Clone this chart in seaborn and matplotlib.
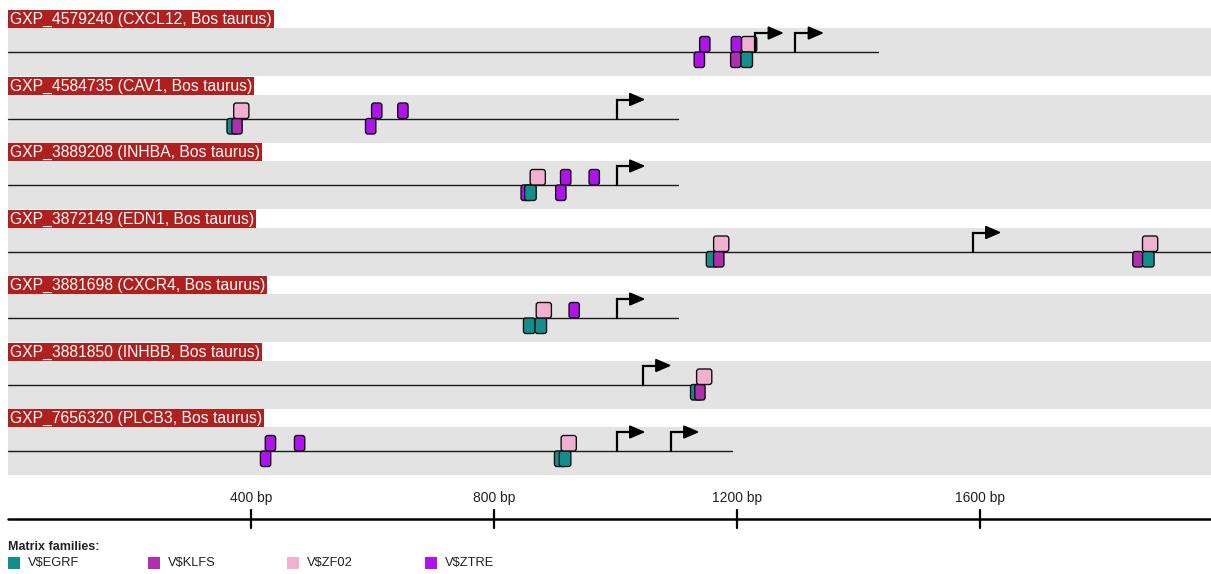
import numpy as np
import pandas as pd
import matplotlib
matplotlib.use("Agg")
import matplotlib.pyplot as plt
import seaborn as sns
from matplotlib.patches import FancyBboxPatch, Rectangle

# Datos de las secuencias
tracks = [
    "GXP_4579240 (CXCL12, Bos taurus)",
    "GXP_4584735 (CAV1, Bos taurus)",
    "GXP_3889208 (INHBA, Bos taurus)",
    "GXP_3872149 (EDN1, Bos taurus)",
    "GXP_3881698 (CXCR4, Bos taurus)",
    "GXP_3881850 (INHBB, Bos taurus)",
    "GXP_7656320 (PLCB3, Bos taurus)",
]
seq_len = [1432, 1103, 1103, 1980, 1103, 1131, 1192]
tss = [[1230, 1296], [1002], [1002], [1588], [1002], [1045], [1002, 1091]]

# Sitios de union (pista, posicion, hebra, familia)
site_track = [0, 0, 0, 0, 0, 0,
              1, 1, 1, 1, 1, 1,
              2, 2, 2, 2, 2, 2,
              3, 3, 3, 3, 3, 3,
              4, 4, 4, 4,
              5, 5, 5,
              6, 6, 6, 6, 6, 6]
site_pos = [1147, 1138, 1199, 1220, 1198, 1216,
            370, 377, 384, 607, 597, 650,
            853, 860, 872, 918, 910, 965,
            1159, 1170, 1174, 1860, 1877, 1880,
            858, 877, 882, 932,
            1133, 1139, 1146,
            424, 432, 480, 909, 917, 923]
site_strand = ["+", "-", "+", "+", "-", "-",
               "-", "-", "+", "+", "-", "+",
               "-", "-", "+", "+", "-", "+",
               "-", "-", "+", "-", "-", "+",
               "-", "-", "+", "+",
               "-", "-", "+",
               "-", "+", "+", "-", "-", "+"]
site_family = ["ZTRE", "ZTRE", "ZTRE", "ZF02", "KLFS", "EGRF",
               "EGRF", "KLFS", "ZF02", "ZTRE", "ZTRE", "ZTRE",
               "ZTRE", "EGRF", "ZF02", "ZTRE", "ZTRE", "ZTRE",
               "EGRF", "KLFS", "ZF02", "KLFS", "EGRF", "ZF02",
               "EGRF", "EGRF", "ZF02", "ZTRE",
               "EGRF", "KLFS", "ZF02",
               "ZTRE", "ZTRE", "ZTRE", "EGRF", "EGRF", "ZF02"]

families = ["EGRF", "KLFS", "ZF02", "ZTRE"]
fam_colors = ["#128f8d", "#b12db2", "#f0b1d0", "#b012ee"]
fam_width = {"EGRF": 19, "KLFS": 17, "ZF02": 25, "ZTRE": 17}
scale_ticks = [400, 800, 1200, 1600]

# Escala: pixeles -> unidades de datos
BP_PER_PX = 400 / 243
TRACK_PX = 66.5
def px(n):
    return n * BP_PER_PX
def py(n):
    return n / TRACK_PX

sns.set_theme(style="white")
plt.rcParams["font.family"] = ["Liberation Sans", "DejaVu Sans"]
pal = dict(zip(families, sns.color_palette(fam_colors)))

fig = plt.figure(figsize=(12.11, 5.74), dpi=100)
ax = fig.add_axes([0, 0, 1, 1])
ax.set_xlim(-px(8), px(1211 - 8))
ax.set_ylim(py(574 - 52), -py(52))
ax.axis("off")

# Bandas grises y etiquetas
label_texts = []
for i, name in enumerate(tracks):
    ax.add_patch(Rectangle((0, i - py(24)), px(1211 - 8), py(48),
                           facecolor="#e3e3e3", edgecolor="none", zorder=0))
    t = ax.text(px(2), i - py(32.5), name, color="white", fontsize=11.3,
                va="center", ha="left", zorder=3)
    label_texts.append(t)

fig.canvas.draw()
inv = ax.transData.inverted()
for i, t in enumerate(label_texts):
    bb = t.get_window_extent()
    x1 = inv.transform((bb.x1, bb.y0))[0]
    ax.add_patch(Rectangle((0, i - py(42)), x1 + px(2), py(18),
                           facecolor="#b0201f", edgecolor="none", zorder=2))

# Lineas de secuencia
lines = pd.DataFrame({
    "track": np.repeat(np.arange(len(tracks)), 2),
    "bp": np.ravel([[0, L] for L in seq_len]),
})
sns.lineplot(data=lines, x="bp", y="track", units="track", estimator=None,
             color="#1a1a1a", linewidth=1.0, ax=ax, zorder=1, legend=False)
ax.set_xlim(-px(8), px(1211 - 8))
ax.set_ylim(py(574 - 52), -py(52))
ax.axis("off")

# Sitios
h = py(15.5)
for tr, pos, st, fam in zip(site_track, site_pos, site_strand, site_family):
    w = fam_width[fam]
    y0 = tr - h if st == "+" else tr
    box = FancyBboxPatch((pos - w / 2, y0), w, h,
                         boxstyle="round,pad=0,rounding_size=%f" % px(2.5),
                         mutation_aspect=py(1) / px(1),
                         facecolor=pal[fam], edgecolor="#111111",
                         linewidth=1.0, zorder=4)
    ax.add_patch(box)

# Flechas de TSS
for i, ps in enumerate(tss):
    for p in ps:
        top = i - py(19)
        ax.plot([p, p, p + px(13)], [i, top, top], color="black",
                linewidth=1.6, solid_joinstyle="miter", zorder=5)
        ax.fill([p + px(13), p + px(13), p + px(27)],
                [top - py(6), top + py(6), top], color="black", zorder=5)

# Barra de escala
ys = (519 - 52) / TRACK_PX
ax.plot([0, px(1211 - 8)], [ys, ys], color="black", linewidth=1.8, zorder=5)
for tk in scale_ticks:
    ax.plot([tk, tk], [ys - py(9), ys + py(9)], color="black", linewidth=1.6, zorder=5)
    ax.text(tk, ys - py(21), f"{tk} bp", ha="center", va="center",
            fontsize=10, color="#222222")

# Leyenda
fig.text(8 / 1211, 1 - 547 / 574, "Matrix families:", fontsize=9,
         fontweight="bold", va="center", ha="left", color="#222222")
leg_x = [8, 148, 287, 425]
for fam, lx in zip(families, leg_x):
    fig.patches.append(Rectangle((lx / 1211, 1 - 569 / 574), 12 / 1211, 12 / 574,
                                 transform=fig.transFigure, facecolor=pal[fam],
                                 edgecolor="none"))
    fig.text((lx + 20) / 1211, 1 - 563 / 574, r"V\$" + fam, fontsize=9.3,
             va="center", ha="left", color="#222222")

fig.savefig("out.png", dpi=100)
